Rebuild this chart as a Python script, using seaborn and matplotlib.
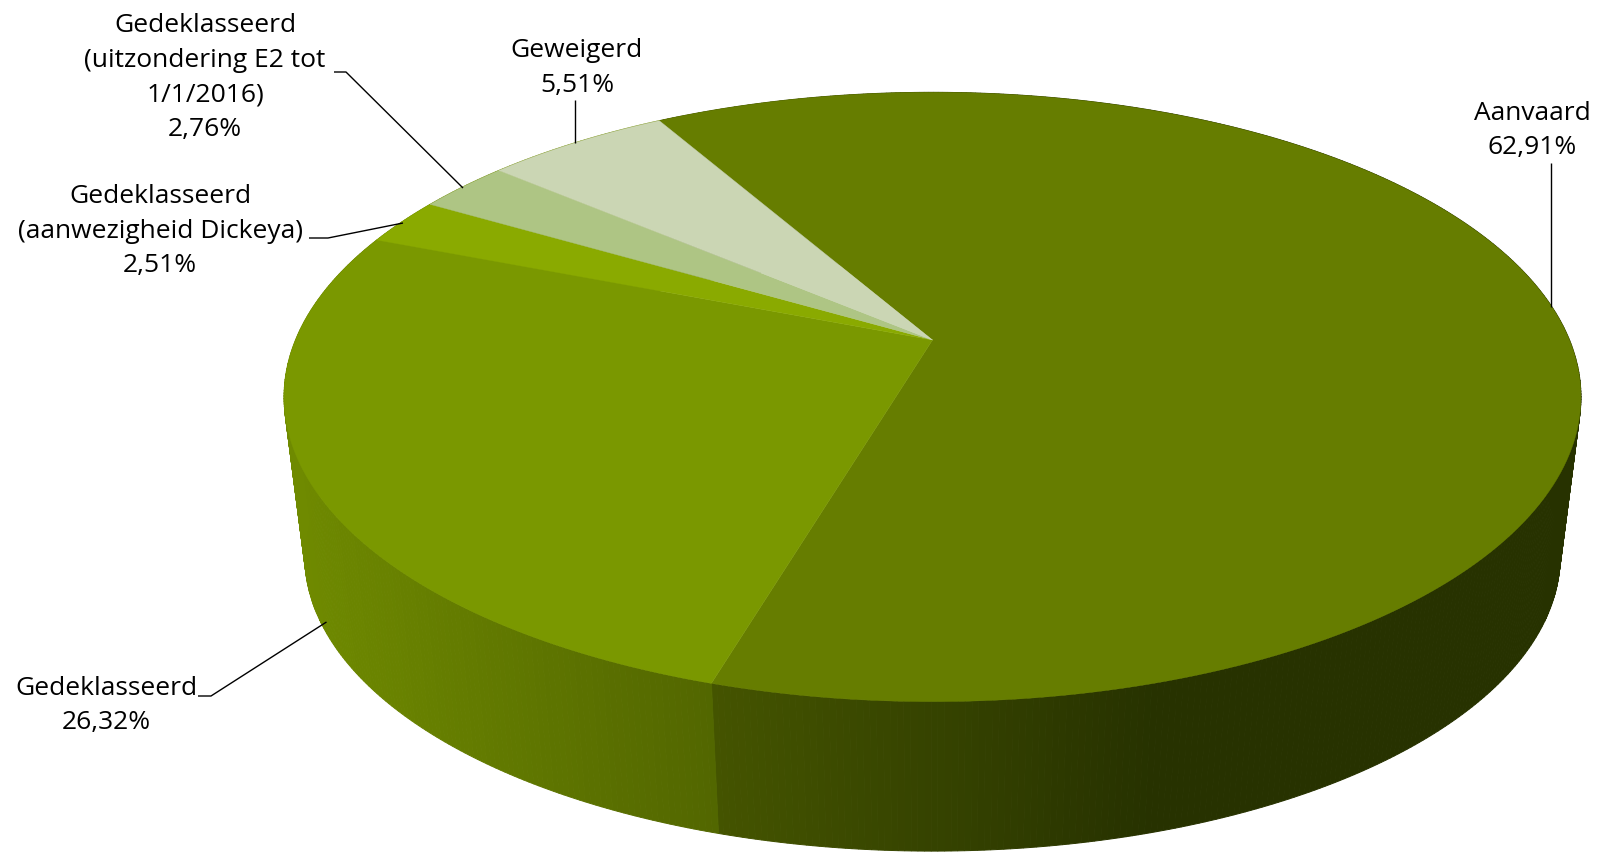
import numpy as np
import matplotlib
matplotlib.use('Agg')
import matplotlib.pyplot as plt
import seaborn as sns

# pie values, clockwise from the first slice
categories = ['Aanvaard', 'Gedeklasseerd', 'Gedeklasseerd\n(aanwezigheid Dickeya)',
              'Gedeklasseerd\n(uitzondering E2 tot\n1/1/2016)', 'Geweigerd']
values = [62.91, 26.32, 2.51, 2.76, 5.51]
top_colors = ['#667d00', '#7a9800', '#8aaa00', '#aec584', '#cbd6b4']
wall_colors = [['#445400', '#273200'], ['#6f8a00', '#526600'], ['#6f8a00'] * 2,
               ['#6f8a00'] * 2, ['#6f8a00'] * 2]
wall_x_range = [(712, 1150), (284, 712), (284, 712), (284, 712), (284, 712)]

label_pos = [(1532.6, 130.7), (106, 705.5), (160, 231), (205, 77.6), (577, 68)]
leaders = [
    [(1551, 163), (1551, 307)],
    [(198, 696), (211, 696), (326.5, 622)],
    [(309, 238), (328, 238), (403, 223)],
    [(334, 72), (346, 72), (463, 188)],
    [(575, 100), (575, 143)],
]

# perspective of the pie, fitted on the picture
cx, cy = 932.5, 340
k, b, R = 0.187, 294, 637
start_angle = -29.9
bottom_scale, vanish_y = 0.968, 5373


def project(theta):
    t = np.radians(theta)
    x, y = np.sin(t), np.cos(t)
    d = 1 + k * y
    return cx + R * x / d, cy - b * y / d


def lower(px, py):
    return cx + bottom_scale * (px - cx), vanish_y + bottom_scale * (py - vanish_y)


sns.set_theme(style='white')
plt.rcParams['font.family'] = ['Open Sans', 'DejaVu Sans']

fig = plt.figure(figsize=(16.01, 8.52), dpi=100)
ax = fig.add_axes([0, 0, 1, 1])
ax.set_xlim(0, 1601)
ax.set_ylim(852, 0)
ax.axis('off')

edges = start_angle + np.concatenate([[0], np.cumsum(values)]) / sum(values) * 360

# side wall first, the top goes over it
for i in range(len(values)):
    thetas = np.arange(edges[i], edges[i + 1] + 0.5, 0.5)
    thetas[-1] = edges[i + 1]
    pal = sns.blend_palette(wall_colors[i], 64)
    x0, x1 = wall_x_range[i]
    for a, c in zip(thetas[:-1], thetas[1:]):
        xa, ya = project(a)
        xc, yc = project(c)
        xa2, ya2 = lower(xa, ya)
        xc2, yc2 = lower(xc, yc)
        t = np.clip(((xa + xc) / 2 - x0) / (x1 - x0), 0, 1)
        col = pal[int(t * 63)]
        ax.fill([xa, xc, xc2, xa2], [ya, yc, yc2, ya2], color=col, lw=0.7, clip_on=True)

# top face
for i in range(len(values)):
    thetas = np.linspace(edges[i], edges[i + 1], 200)
    px, py = project(thetas)
    ax.fill(np.r_[cx, px], np.r_[cy, py], color=top_colors[i], lw=0.3, zorder=3)

for name, v, (lx, ly), line in zip(categories, values, label_pos, leaders):
    pct = f'{v:.2f}'.replace('.', ',') + '%'
    ax.text(lx, ly, name + '\n' + pct, ha='center', va='center', fontsize=19,
            color='black', linespacing=1.5, zorder=5)
    ax.plot(*zip(*line), color='black', lw=1, zorder=4, solid_capstyle='butt')

fig.savefig('out.png', dpi=100, facecolor='white')
